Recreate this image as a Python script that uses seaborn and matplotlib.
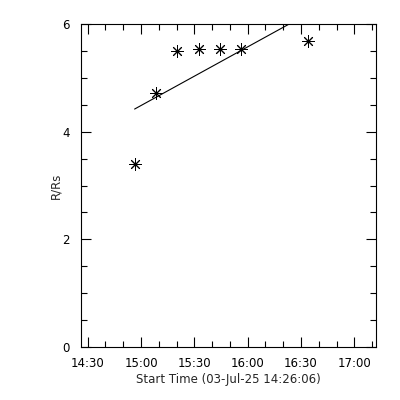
import pandas as pd
import matplotlib
matplotlib.use("Agg")
import matplotlib.pyplot as plt
import matplotlib.dates as mdates
import seaborn as sns

# data
obs_times = ["2025-07-03 14:56:24", "2025-07-03 15:08:40", "2025-07-03 15:20:25",
             "2025-07-03 15:32:35", "2025-07-03 15:44:35", "2025-07-03 15:56:25",
             "2025-07-03 16:33:50"]
obs_r = [3.40, 4.72, 5.50, 5.53, 5.53, 5.53, 5.68]

fit_times = ["2025-07-03 14:56:24", "2025-07-03 16:33:50"]
fit_r = [4.42, 6.19]

x_start = "2025-07-03 14:26:06"
x_end = "2025-07-03 17:12:10"

pts = pd.DataFrame({"t": pd.to_datetime(obs_times), "r": obs_r})
fit = pd.DataFrame({"t": pd.to_datetime(fit_times), "r": fit_r})

sns.set_style("white")
plt.rcParams["font.family"] = ["DejaVu Sans"]

fig = plt.figure(figsize=(4, 4), dpi=100)
ax = fig.add_axes([0.2018, 0.1325, 0.7382, 0.8075])

sns.lineplot(data=fit, x="t", y="r", ax=ax, color="black", linewidth=0.8)
sns.scatterplot(data=pts, x="t", y="r", ax=ax, marker=(8, 2, 0), s=70,
                color="black", linewidth=0.7, edgecolor="black")

ax.set_xlim(pd.Timestamp(x_start), pd.Timestamp(x_end))
ax.set_ylim(0, 6)
ax.xaxis.set_major_locator(mdates.MinuteLocator(byminute=[0, 30]))
ax.xaxis.set_minor_locator(mdates.MinuteLocator(byminute=[10, 20, 40, 50]))
ax.xaxis.set_major_formatter(mdates.DateFormatter("%H:%M"))
ax.set_yticks([0, 2, 4, 6])
ax.set_yticks([0.5, 1, 1.5, 2.5, 3, 3.5, 4.5, 5, 5.5], minor=True)

ax.tick_params(which="both", direction="in", top=True, right=True,
               bottom=True, left=True, labelsize=8.5, colors="black", width=0.8)
ax.tick_params(which="major", length=7)
ax.tick_params(which="minor", length=4)
ax.tick_params(axis="x", which="major", pad=7)
ax.tick_params(axis="y", which="major", pad=8)
for sp in ax.spines.values():
    sp.set_color("black")
    sp.set_linewidth(0.8)

ax.set_xlabel("Start Time (03-Jul-25 14:26:06)", fontsize=8.5, labelpad=2)
ax.set_ylabel("R/Rs", fontsize=8.5, labelpad=0)

fig.savefig("out.png", dpi=100, facecolor="white")
